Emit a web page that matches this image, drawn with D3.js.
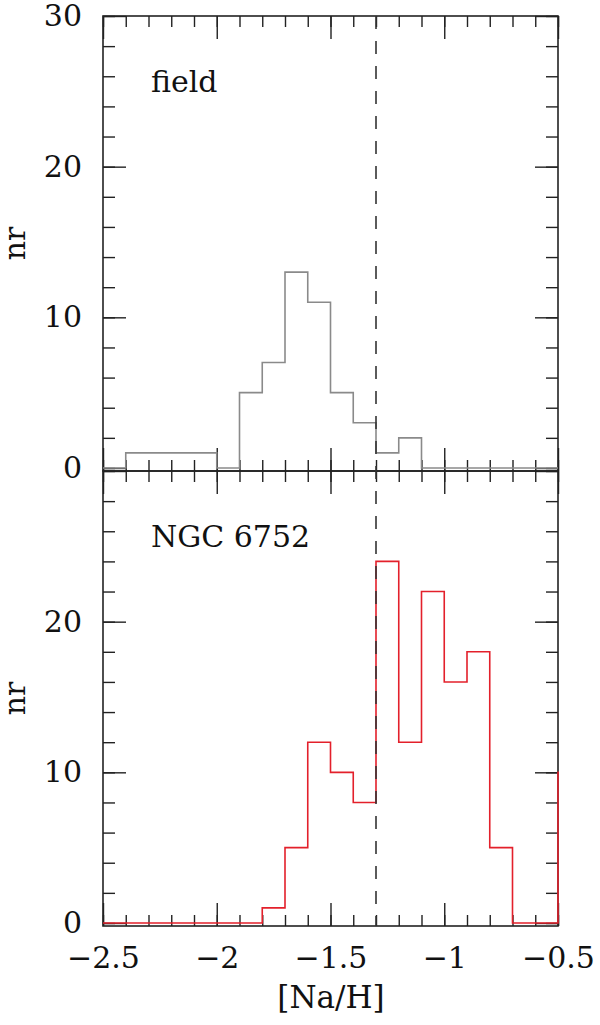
<!DOCTYPE html>
<meta charset="utf-8">
<style>
body { margin: 0; background: #fff; }
svg { display: block; }
.tick text { font-family: "DejaVu Serif", serif; font-size: 30px; fill: #111; }
.lbl { font-family: "DejaVu Serif", serif; fill: #111; }
.frame { fill: none; stroke: #222; stroke-width: 1.6px; }
.domain { display: none; }
.tick line { stroke: #222; stroke-width: 1.4px; }
</style>
<svg width="600" height="1025"></svg>
<script src="https://cdn.jsdelivr.net/npm/d3@7"></script>
<script>

// bin edges in [Na/H]; counts[k] covers binEdges[k]..binEdges[k+1]
var binEdges = [-2.5, -2.4, -2.3, -2.2, -2.1, -2.0, -1.9, -1.8, -1.7, -1.6, -1.5,
                -1.4, -1.3, -1.2, -1.1, -1.0, -0.9, -0.8, -0.7, -0.6, -0.5, -0.4];

var fieldCounts = [0, 1, 1, 1, 1, 0, 5, 7, 13, 11, 5, 3, 1, 2, 0, 0, 0, 0, 0, 0];
var ngcCounts   = [0, 0, 0, 0, 0, 0, 0, 1, 5, 12, 10, 8, 24, 12, 22, 16, 18, 5, 0, 0, 10];

var splitValue = -1.3;

var xMajor = [-2.5, -2, -1.5, -1, -0.5];
var xLabels = ["\u22122.5", "\u22122", "\u22121.5", "\u22121", "\u22120.5"];
var xMinor = [-2.5, -2.4, -2.3, -2.2, -2.1, -2.0, -1.9, -1.8, -1.7, -1.6, -1.5,
              -1.4, -1.3, -1.2, -1.1, -1.0, -0.9, -0.8, -0.7, -0.6, -0.5];
var yMajor = [0, 10, 20, 30];
var yMinor = [0, 2, 4, 6, 8, 10, 12, 14, 16, 18, 20, 22, 24, 26, 28, 30];

var left = 103, right = 558;
var panels = [
  {name: "field", counts: fieldCounts, color: "#8a8a8a", top: 16, bottom: 471, yLabels: [0, 10, 20, 30]},
  {name: "NGC 6752", counts: ngcCounts, color: "#e3202b", top: 471, bottom: 926, yLabels: [0, 10, 20]}
];

var svg = d3.select("svg");

var x = d3.scaleLinear().domain([-2.5, -0.5]).range([left, right]);

var dash = svg.append("g");

panels.forEach(function(p, i) {
  var y = d3.scaleLinear().domain([-0.2, 30]).range([p.bottom, p.top]);
  var g = svg.append("g");

  g.append("clipPath").attr("id", "clip" + i)
    .append("rect")
    .attr("x", left).attr("y", p.top)
    .attr("width", right - left + 1).attr("height", p.bottom - p.top);

  // minor ticks, all four sides
  g.append("g").attr("transform", `translate(${left},0)`)
    .call(d3.axisLeft(y).tickValues(yMinor).tickSize(-12).tickFormat(""));
  g.append("g").attr("transform", `translate(${right},0)`)
    .call(d3.axisRight(y).tickValues(yMinor).tickSize(-12).tickFormat(""));
  g.append("g").attr("transform", `translate(0,${p.top})`)
    .call(d3.axisTop(x).tickValues(xMinor).tickSize(-11).tickFormat(""));
  g.append("g").attr("transform", `translate(0,${p.bottom})`)
    .call(d3.axisBottom(x).tickValues(xMinor).tickSize(-11).tickFormat(""));

  // major ticks
  g.append("g").attr("transform", `translate(${left},0)`)
    .call(d3.axisLeft(y).tickValues(yMajor).tickSize(-23).tickPadding(21)
      .tickFormat(d => p.yLabels.indexOf(d) >= 0 ? d : ""));
  g.append("g").attr("transform", `translate(${right},0)`)
    .call(d3.axisRight(y).tickValues(yMajor).tickSize(-23).tickFormat(""));
  g.append("g").attr("transform", `translate(0,${p.top})`)
    .call(d3.axisTop(x).tickValues(xMajor).tickSize(-23).tickFormat(""));
  g.append("g").attr("transform", `translate(0,${p.bottom})`)
    .call(d3.axisBottom(x).tickValues(xMajor).tickSize(-23).tickPadding(21)
      .tickFormat((d, k) => i == 1 ? xLabels[k] : ""));

  g.append("rect").attr("class", "frame")
    .attr("x", left).attr("y", p.top)
    .attr("width", right - left).attr("height", p.bottom - p.top);

  // histogram as a step line
  var pts = [];
  p.counts.forEach(function(c, k) {
    pts.push([binEdges[k], c]);
    pts.push([binEdges[k + 1], c]);
  });
  g.append("path")
    .attr("clip-path", "url(#clip" + i + ")")
    .attr("d", d3.line().x(d => x(d[0])).y(d => y(d[1]))(pts))
    .attr("fill", "none")
    .attr("stroke", p.color)
    .attr("stroke-width", 1.6);

  g.append("text").attr("class", "lbl")
    .attr("x", 151).attr("y", p.top + 76)
    .style("font-size", "30px")
    .text(p.name);

  g.append("text").attr("class", "lbl")
    .attr("transform", `translate(25,${(p.top + p.bottom) / 2}) rotate(-90)`)
    .attr("text-anchor", "middle")
    .style("font-size", "30px")
    .text("nr");
});

dash.raise();
dash.append("line")
  .attr("x1", x(splitValue)).attr("x2", x(splitValue))
  .attr("y1", 16).attr("y2", 926)
  .attr("stroke", "#333")
  .attr("stroke-width", 1.6)
  .attr("stroke-dasharray", "13,12");

svg.append("text").attr("class", "lbl")
  .attr("x", 331).attr("y", 1008)
  .attr("text-anchor", "middle")
  .style("font-size", "31px")
  .text("[Na/H]");

</script>
